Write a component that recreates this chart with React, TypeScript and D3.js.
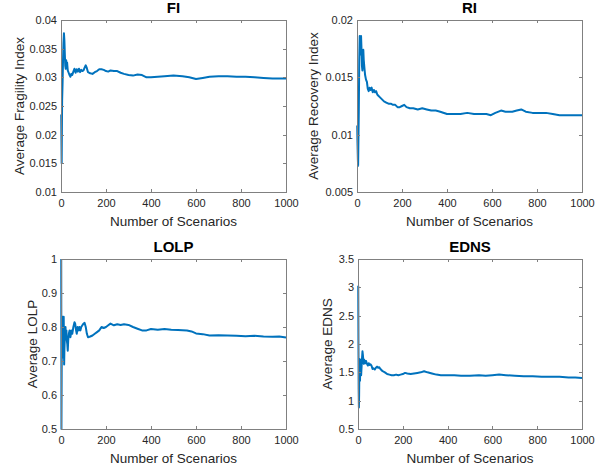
import React, { useEffect, useRef } from "react";
import * as d3 from "d3";

// scenario index / running average
const fiScenarios = [1, 2, 3, 4, 5, 7, 9, 11, 13, 15, 17, 19, 21, 23, 25, 27, 30, 34, 38, 42, 46, 50, 55, 60, 65, 70, 75, 80, 85, 90, 95, 100, 105, 110, 115, 120, 130, 140, 150, 160, 170, 180, 190, 200, 210, 220, 235, 250, 265, 280, 300, 320, 340, 360, 380, 400, 430, 460, 500, 540, 570, 600, 630, 660, 700, 740, 780, 820, 860, 900, 940, 970, 1000];
const fiValues = [0.0235, 0.019, 0.015, 0.021, 0.026, 0.029, 0.033, 0.036, 0.0377, 0.0365, 0.034, 0.032, 0.0315, 0.033, 0.0318, 0.0326, 0.0312, 0.0308, 0.0304, 0.0301, 0.0306, 0.0304, 0.031, 0.0315, 0.0308, 0.0314, 0.031, 0.0315, 0.0309, 0.0313, 0.0311, 0.0312, 0.0317, 0.0321, 0.0316, 0.0309, 0.0307, 0.0306, 0.0309, 0.0311, 0.0314, 0.0314, 0.0313, 0.0311, 0.031, 0.0312, 0.0311, 0.0311, 0.0308, 0.0306, 0.0304, 0.0303, 0.0305, 0.0304, 0.03, 0.03, 0.0301, 0.0302, 0.0303, 0.0302, 0.03, 0.0297, 0.0299, 0.0301, 0.0302, 0.0302, 0.0301, 0.0301, 0.03, 0.0299, 0.0298, 0.0298, 0.0298];

const riScenarios = [1, 2, 4, 5, 6, 8, 10, 12, 14, 16, 18, 20, 22, 24, 26, 28, 30, 33, 36, 40, 44, 48, 52, 56, 60, 65, 70, 75, 80, 85, 90, 95, 100, 110, 120, 130, 140, 150, 160, 170, 180, 190, 200, 210, 220, 235, 250, 270, 290, 310, 330, 350, 370, 400, 430, 460, 490, 520, 550, 575, 595, 615, 640, 660, 690, 710, 730, 750, 780, 810, 840, 870, 900, 930, 960, 1000];
const riValues = [0.0108, 0.0095, 0.0078, 0.0073, 0.009, 0.012, 0.0165, 0.0186, 0.0183, 0.017, 0.0186, 0.0175, 0.016, 0.0156, 0.0168, 0.0174, 0.0165, 0.0158, 0.0152, 0.0148, 0.0146, 0.014, 0.0138, 0.0141, 0.0139, 0.0141, 0.0137, 0.0139, 0.0137, 0.0138, 0.0135, 0.0134, 0.0133, 0.0131, 0.0129, 0.0128, 0.0127, 0.0127, 0.0126, 0.0126, 0.0124, 0.0124, 0.0125, 0.0126, 0.0124, 0.0123, 0.0123, 0.0122, 0.0123, 0.0122, 0.0121, 0.0121, 0.012, 0.0118, 0.0118, 0.0118, 0.0119, 0.0118, 0.0118, 0.0118, 0.0117, 0.0119, 0.0121, 0.012, 0.012, 0.0121, 0.0122, 0.012, 0.0119, 0.0119, 0.0119, 0.0118, 0.0117, 0.0117, 0.0117, 0.0117];

const lolpScenarios = [1, 2, 3, 4, 5, 6, 7, 8, 9, 10, 11, 12, 13, 14, 15, 16, 18, 20, 22, 24, 26, 28, 30, 32, 35, 38, 42, 46, 50, 55, 60, 63, 67, 70, 74, 78, 82, 86, 90, 95, 100, 105, 110, 115, 120, 130, 140, 150, 160, 170, 180, 190, 200, 210, 220, 235, 250, 265, 280, 300, 320, 340, 360, 380, 400, 430, 460, 490, 520, 560, 580, 600, 630, 660, 700, 740, 780, 820, 860, 900, 940, 970, 1000];
const lolpValues = [1.0, 0.5, 0.667, 0.75, 0.8, 0.83, 0.71, 0.75, 0.78, 0.8, 0.82, 0.83, 0.77, 0.69, 0.73, 0.75, 0.78, 0.8, 0.77, 0.79, 0.76, 0.75, 0.73, 0.76, 0.78, 0.79, 0.77, 0.79, 0.78, 0.8, 0.814, 0.81, 0.79, 0.78, 0.8, 0.79, 0.8, 0.79, 0.8, 0.805, 0.81, 0.812, 0.8, 0.78, 0.77, 0.772, 0.775, 0.78, 0.785, 0.79, 0.8, 0.797, 0.8, 0.805, 0.81, 0.805, 0.808, 0.806, 0.808, 0.806, 0.8, 0.795, 0.79, 0.79, 0.794, 0.792, 0.794, 0.792, 0.791, 0.79, 0.787, 0.781, 0.779, 0.775, 0.776, 0.775, 0.774, 0.773, 0.774, 0.772, 0.771, 0.772, 0.769];

const ednsScenarios = [1, 2, 3, 4, 5, 6, 7, 8, 9, 10, 11, 12, 14, 16, 18, 20, 22, 24, 26, 28, 30, 33, 36, 40, 44, 48, 52, 56, 60, 65, 70, 75, 80, 85, 90, 95, 100, 110, 120, 130, 140, 150, 160, 170, 180, 190, 200, 210, 220, 235, 250, 265, 280, 295, 310, 330, 350, 370, 400, 430, 460, 500, 540, 570, 600, 630, 660, 700, 740, 780, 820, 860, 900, 940, 970, 1000];
const ednsValues = [3.03, 2.0, 1.2, 0.88, 1.1, 1.5, 1.73, 1.55, 1.35, 1.6, 1.72, 1.55, 1.45, 1.6, 1.75, 1.87, 1.8, 1.7, 1.65, 1.72, 1.68, 1.66, 1.7, 1.65, 1.62, 1.66, 1.63, 1.64, 1.62, 1.56, 1.57, 1.55, 1.58, 1.6, 1.58, 1.59, 1.56, 1.52, 1.5, 1.47, 1.46, 1.45, 1.45, 1.46, 1.45, 1.46, 1.47, 1.49, 1.48, 1.47, 1.48, 1.49, 1.5, 1.52, 1.5, 1.48, 1.46, 1.45, 1.45, 1.45, 1.44, 1.44, 1.45, 1.44, 1.45, 1.46, 1.45, 1.44, 1.43, 1.43, 1.42, 1.42, 1.42, 1.41, 1.41, 1.4];

const xTicks = [0, 200, 400, 600, 800, 1000];
const fiTicks = [0.01, 0.015, 0.02, 0.025, 0.03, 0.035, 0.04];
const riTicks = [0.005, 0.01, 0.015, 0.02];
const lolpTicks = [0.5, 0.6, 0.7, 0.8, 0.9, 1];
const ednsTicks = [0.5, 1, 1.5, 2, 2.5, 3, 3.5];

const panels = [
  { title: "FI", yLabel: "Average Fragility Index", xs: fiScenarios, ys: fiValues, yTicks: fiTicks, left: 61, right: 286, top: 20, bottom: 192, labelX: 24 },
  { title: "RI", yLabel: "Average Recovery Index", xs: riScenarios, ys: riValues, yTicks: riTicks, left: 357, right: 582, top: 20, bottom: 192, labelX: 318 },
  { title: "LOLP", yLabel: "Average LOLP", xs: lolpScenarios, ys: lolpValues, yTicks: lolpTicks, left: 61, right: 286, top: 259, bottom: 429, labelX: 37 },
  { title: "EDNS", yLabel: "Average EDNS", xs: ednsScenarios, ys: ednsValues, yTicks: ednsTicks, left: 358, right: 582, top: 259, bottom: 429, labelX: 332 },
];

const font = "'Liberation Sans', Arial, Helvetica, sans-serif";
const axisColor = "#808080";
const textColor = "#262626";

const App = () => {
  const svgRef = useRef<SVGSVGElement>(null);

  useEffect(() => {
    const svg = d3.select(svgRef.current);
    svg.selectAll("*").remove();

    panels.forEach((p) => {
      const x = d3.scaleLinear().domain([0, 1000]).range([p.left, p.right]);
      const yExt = d3.extent(p.yTicks) as [number, number];
      const y = d3.scaleLinear().domain(yExt).range([p.bottom, p.top]);
      const g = svg.append("g");

      g.append("rect")
        .attr("x", p.left)
        .attr("y", p.top)
        .attr("width", p.right - p.left)
        .attr("height", p.bottom - p.top)
        .attr("fill", "#fff");

      // line
      const pts = p.xs.map((s, i) => [s, p.ys[i]] as [number, number]);
      const line = d3
        .line<[number, number]>()
        .x((d) => x(d[0]))
        .y((d) => y(d[1]));
      g.append("path")
        .datum(pts)
        .attr("d", line)
        .attr("fill", "none")
        .attr("stroke", "#0072BD")
        .attr("stroke-width", 2)
        .attr("stroke-linejoin", "round");

      const fmt = (d: any) => String(d);

      const bx = g
        .append("g")
        .attr("transform", `translate(0,${p.bottom})`)
        .call(d3.axisBottom(x).tickValues(xTicks).tickFormat(fmt).tickSizeInner(-3).tickSizeOuter(0).tickPadding(7));
      const ly = g
        .append("g")
        .attr("transform", `translate(${p.left},0)`)
        .call(d3.axisLeft(y).tickValues(p.yTicks).tickFormat(fmt).tickSizeInner(-3).tickSizeOuter(0).tickPadding(4));
      // mirrored ticks top / right
      const tx = g
        .append("g")
        .attr("transform", `translate(0,${p.top})`)
        .call(d3.axisTop(x).tickValues(xTicks).tickFormat(() => "").tickSizeInner(-3).tickSizeOuter(0));
      const ry = g
        .append("g")
        .attr("transform", `translate(${p.right},0)`)
        .call(d3.axisRight(y).tickValues(p.yTicks).tickFormat(() => "").tickSizeInner(-3).tickSizeOuter(0));

      [bx, ly, tx, ry].forEach((a) => {
        a.select(".domain").remove();
        a.selectAll("line").attr("stroke", axisColor).attr("shape-rendering", "crispEdges");
        a.selectAll("text").attr("fill", textColor).style("font-size", "11px").style("font-family", font);
      });

      // box
      g.append("rect")
        .attr("x", p.left + 0.5)
        .attr("y", p.top + 0.5)
        .attr("width", p.right - p.left)
        .attr("height", p.bottom - p.top)
        .attr("fill", "none")
        .attr("stroke", axisColor)
        .attr("stroke-width", 1);

      g.append("text")
        .attr("x", (p.left + p.right) / 2)
        .attr("y", p.top - 7)
        .attr("text-anchor", "middle")
        .attr("fill", "#000")
        .style("font-family", font)
        .style("font-size", "15px")
        .style("font-weight", "bold")
        .text(p.title);

      g.append("text")
        .attr("x", (p.left + p.right) / 2)
        .attr("y", p.bottom + 34)
        .attr("text-anchor", "middle")
        .attr("fill", textColor)
        .style("font-family", font)
        .style("font-size", "13.5px")
        .text("Number of Scenarios");

      g.append("text")
        .attr("transform", `translate(${p.labelX},${(p.top + p.bottom) / 2}) rotate(-90)`)
        .attr("text-anchor", "middle")
        .attr("fill", textColor)
        .style("font-family", font)
        .style("font-size", "13.5px")
        .text(p.yLabel);
    });
  }, []);

  return (
    <svg
      ref={svgRef}
      width={603}
      height={473}
      style={{ position: "absolute", left: 0, top: 0, background: "#fff" }}
    ></svg>
  );
};

export default App;
